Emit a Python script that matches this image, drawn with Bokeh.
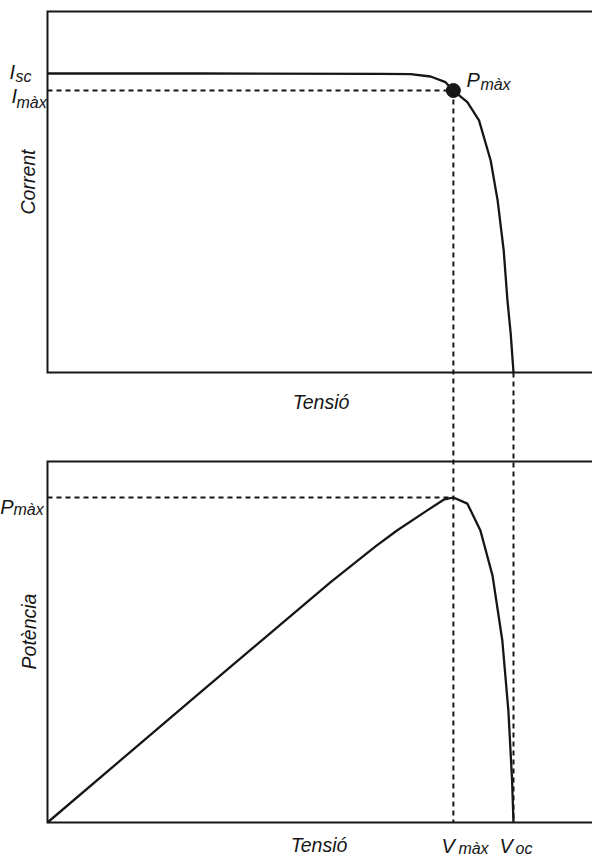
import math
from bokeh.plotting import figure
from bokeh.models import Range1d, Label
from bokeh.embed import file_html
from bokeh.resources import INLINE

# ---------------- data (normalised: V / Voc, I / Isc, P in Voc*Isc units) ----------------
V_IV = [0.000, 0.328, 0.715, 0.779, 0.822, 0.854, 0.871, 0.901, 0.926, 0.951, 0.966, 0.979, 0.987, 0.994, 1.000]
I_IV = [1.000, 1.000, 0.999, 0.998, 0.990, 0.971, 0.943, 0.904, 0.843, 0.709, 0.575, 0.408, 0.241, 0.130, 0.000]

V_P = [0.000, 0.328, 0.607, 0.704, 0.750, 0.815, 0.850, 0.871, 0.901, 0.929, 0.955, 0.976, 0.989, 0.997, 1.000]
P_P = [0.000, 0.329, 0.607, 0.698, 0.738, 0.789, 0.816, 0.8215, 0.806, 0.738, 0.624, 0.460, 0.283, 0.106, 0.000]

I_SC = 1.0
V_OC = 1.0
V_MAX = 0.871
I_MAX = 0.943
P_MAX = 0.8215

# ---------------- layout (page pixels) ----------------
W, H = 592, 857
OFF = 0
X0_PX, XOC_PX = 47, 513          # V = 0, V = Voc
TOP_BASE_PX, TOP_ISC_PX, TOP_EDGE_PX = 372, 73, 11
BOT_BASE_PX, BOT_PMAX_PX, BOT_EDGE_PX = 822, 497, 461

INK = "#161616"
FONT = "Liberation Sans"

px_v = (XOC_PX - X0_PX) / V_OC
px_i = (TOP_BASE_PX - TOP_ISC_PX) / I_SC
px_p = (BOT_BASE_PX - BOT_PMAX_PX) / P_MAX

x_start = -(X0_PX - OFF) / px_v
x_end = (OFF + W - X0_PX) / px_v
i_start = -(OFF + H - TOP_BASE_PX) / px_i
i_end = (TOP_BASE_PX - OFF) / px_i
p_start = -(OFF + H - BOT_BASE_PX) / px_p
p_end = (BOT_BASE_PX - OFF) / px_p

I_TOP = (TOP_BASE_PX - TOP_EDGE_PX) / px_i
P_TOP = (BOT_BASE_PX - BOT_EDGE_PX) / px_p
I_AT_BOT = -(BOT_BASE_PX - TOP_BASE_PX) / px_i
V_END = x_end

p = figure(width=W, height=H, x_range=Range1d(x_start, x_end), y_range=Range1d(i_start, i_end),
           x_axis_type=None, y_axis_type=None, output_backend="svg", toolbar_location=None,
           min_border=0, min_border_left=0, min_border_right=0, min_border_top=0, min_border_bottom=0)
p.extra_y_ranges = {"power": Range1d(p_start, p_end)}
p.outline_line_color = None
p.background_fill_color = "white"
p.border_fill_color = "white"

# panel frames
p.line([V_END, 0, 0, V_END], [I_TOP, I_TOP, 0, 0], line_width=2, line_color=INK, line_join="miter")
p.line([V_END, 0, 0, V_END], [P_TOP, P_TOP, 0, 0], line_width=2, line_color=INK, line_join="miter",
       y_range_name="power")

# dashed guides
dash = dict(line_width=2, line_color=INK, line_dash="5 4")
p.line([0, V_MAX], [I_MAX, I_MAX], **dash)
p.line([V_MAX, V_MAX], [I_MAX, I_AT_BOT], **dash)
p.line([V_OC, V_OC], [0, I_AT_BOT], **dash)
p.line([0, V_MAX], [P_MAX, P_MAX], y_range_name="power", **dash)

# curves
p.line(V_IV, I_IV, line_width=2.3, line_color=INK, line_join="round")
p.line(V_P, P_P, line_width=2.3, line_color=INK, line_join="round", y_range_name="power")
p.scatter([V_MAX], [I_MAX], size=14, fill_color=INK, line_color=INK)


def lab(text, x, y, xo, yo, size, align="left", baseline="alphabetic", angle=0.0, yr="default"):
    p.add_layout(Label(x=x, y=y, x_offset=xo, y_offset=yo, text=text, text_font=FONT,
                       text_font_style="italic", text_font_size=f"{size}px", text_color=INK,
                       text_align=align, text_baseline=baseline, angle=angle, y_range_name=yr))


# current labels
lab("I", 0, I_SC, -38, 2, 20)
lab("sc", 0, I_SC, -32, -3, 16)
lab("I", 0, I_MAX, -36, -5, 20)
lab("màx", 0, I_MAX, -31, -12, 16)
lab("P", V_MAX, I_MAX, 13, 11, 20)
lab("màx", V_MAX, I_MAX, 27, 6, 16)
lab("Corrent", 0, I_TOP / 2, -19.5, 10, 19.5, align="center", baseline="middle", angle=math.pi / 2)
lab("Tensió", V_END / 2, 0, 1, -29, 19.5, align="center")

# power labels
lab("P", 0, P_MAX, -34, -9, 20, align="right", yr="power")
lab("màx", 0, P_MAX, -34, -12, 16, yr="power")
lab("Potència", 0, P_TOP / 2, -19, 10.5, 19.5, align="center", baseline="middle", angle=math.pi / 2, yr="power")
lab("Tensió", V_END / 2, 0, -1, -22, 19.5, align="center", yr="power")
lab("V", V_MAX, 0, -12, -23, 20, yr="power")
lab("màx", V_MAX, 0, 5, -26, 16, yr="power")
lab("V", V_OC, 0, -14, -23, 20, yr="power")
lab("oc", V_OC, 0, 2, -26, 16, yr="power")

open("out.html", "w").write(file_html(p, INLINE, "Corba I-V"))
